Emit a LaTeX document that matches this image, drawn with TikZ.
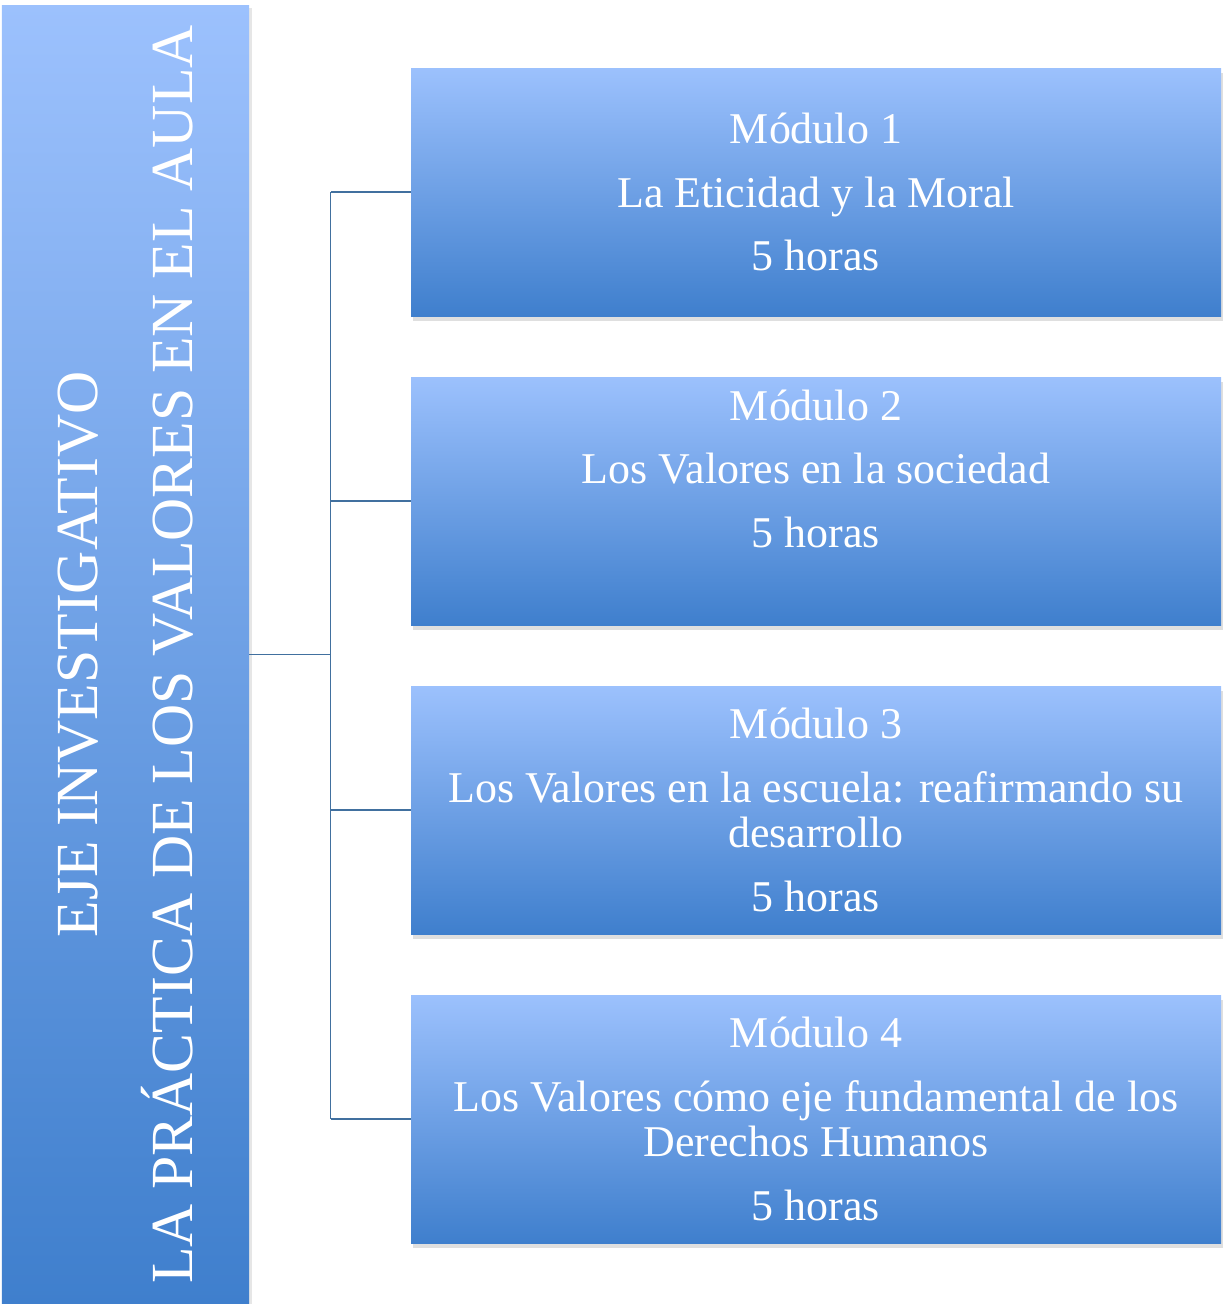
\documentclass[tikz,border=0pt]{standalone}
\usepackage{fontspec}
\setmainfont{Liberation Serif}
\usetikzlibrary{positioning, calc, shadows}
\definecolor{TopBlue}{HTML}{9CC1FD}
\definecolor{MidBlue}{HTML}{80AAEA}
\definecolor{BottomBlue}{HTML}{3F7FCD}
\definecolor{LinkBlue}{HTML}{41709F}
\tikzset{
  ejebox/.style={rectangle, inner sep=0pt, outer sep=0pt, top color=TopBlue, middle color=MidBlue, bottom color=BottomBlue, draw=none, minimum width=4.94cm, minimum height=25.98cm, drop shadow={shadow xshift=0.05cm, shadow yshift=-0.06cm, opacity=0.2}},
  ejetext/.style={rotate=90, text=white, align=center, font=\fontsize{34}{36}\selectfont},
  modbox/.style={rectangle, inner sep=0pt, outer sep=0pt, top color=TopBlue, middle color=MidBlue, bottom color=BottomBlue, draw=none, minimum width=16.2cm, minimum height=4.96cm, text=white, align=center, font=\fontsize{25}{26}\selectfont, drop shadow={shadow xshift=0.04cm, shadow yshift=-0.09cm, opacity=0.25}},
  link/.style={draw=LinkBlue, line width=1.1pt}
}

\begin{document}
\begin{tikzpicture}[node distance=1.22cm]
\useasboundingbox (0,0) rectangle (24.5,-26.08);
\node[ejebox] (eje) at (2.51,-13.09) {};
\node[ejetext] (ejelabel) at (eje.center) {EJE INVESTIGATIVO\\[18pt]LA PRÁCTICA DE LOS VALORES EN EL AULA};
\node[modbox] (mod1) at (16.32,-3.84) {Módulo 1\\[10pt]La Eticidad y la Moral\\[10pt]5 horas};
\node[modbox, below=of mod1] (mod2) {Módulo 2\\[10pt]Los Valores en la sociedad\\[10pt]5 horas\\[3pt]\strut};
\node[modbox, below=of mod2] (mod3) {Módulo 3\\[10pt]Los Valores en la escuela: reafirmando su\\desarrollo\\[10pt]5 horas};
\node[modbox, below=of mod3] (mod4) {Módulo 4\\[10pt]Los Valores cómo eje fundamental de los\\Derechos Humanos\\[10pt]5 horas};
\draw[link] (eje.east) -- ++(1.63,0) coordinate (hub);
\draw[link] (hub |- mod1.west) -- (hub |- mod4.west);
\foreach \m in {mod1, mod2, mod3, mod4}
  \draw[link] (hub |- \m.west) -- (\m.west);
\end{tikzpicture}
\end{document}
